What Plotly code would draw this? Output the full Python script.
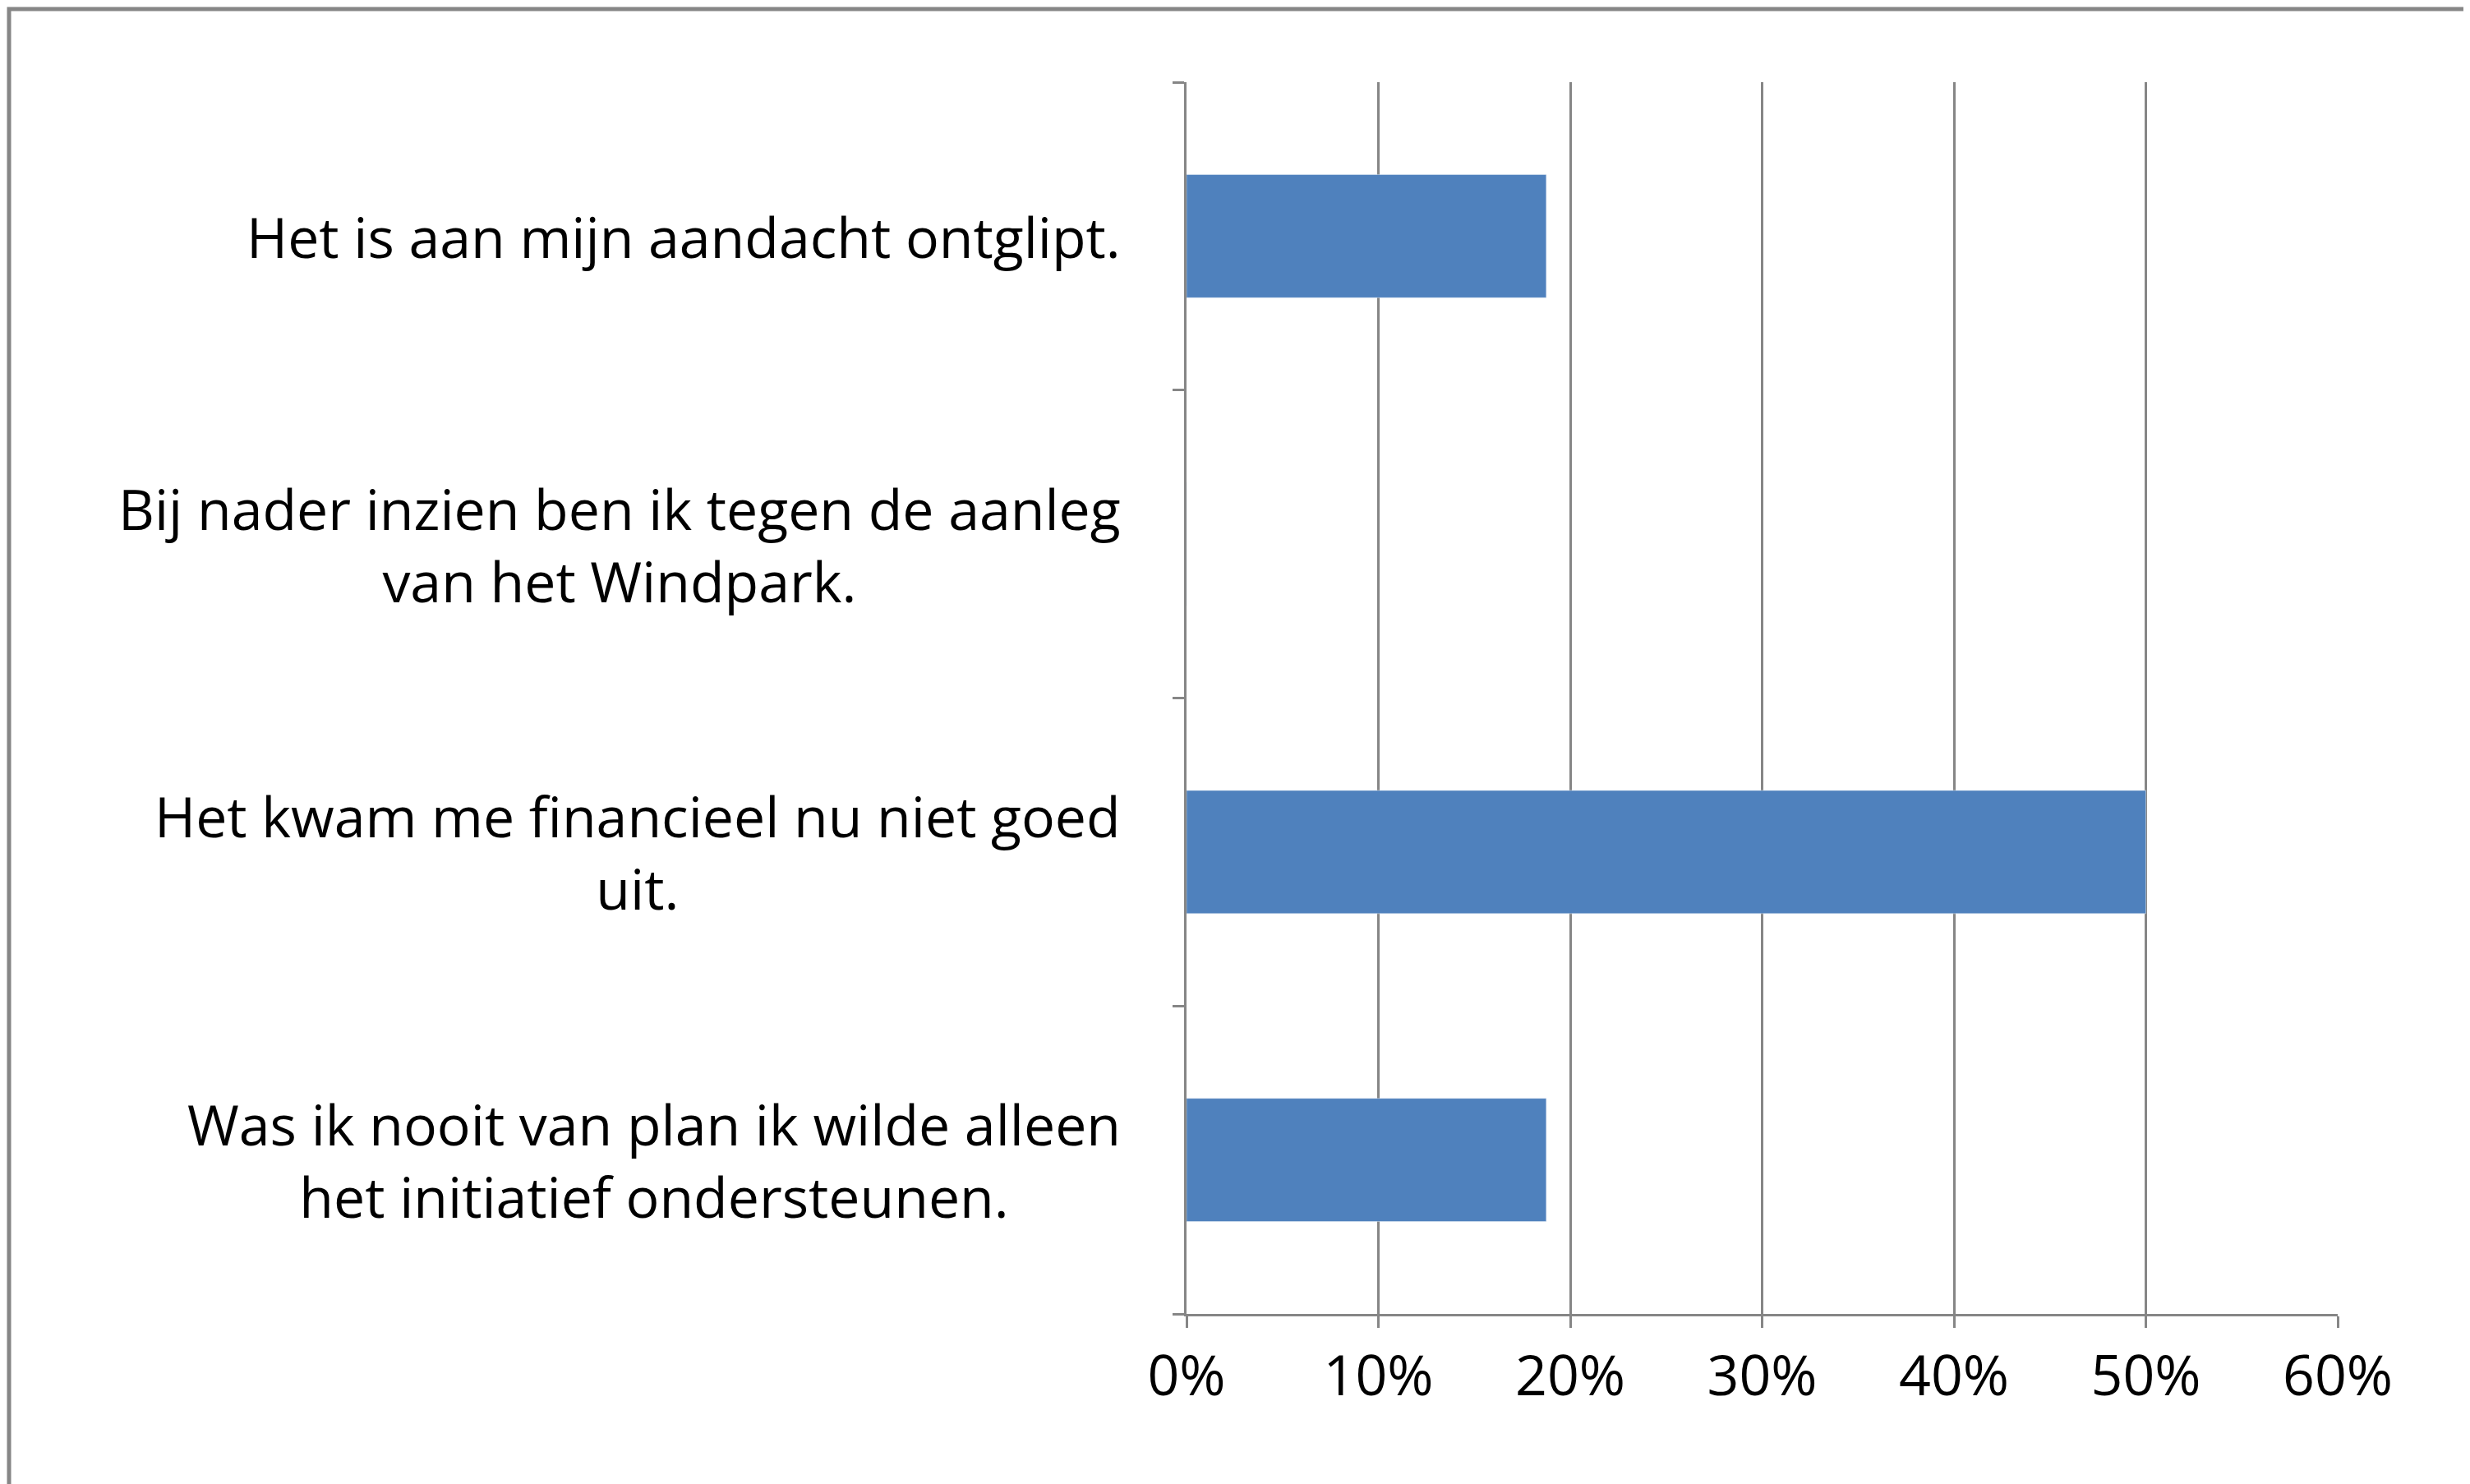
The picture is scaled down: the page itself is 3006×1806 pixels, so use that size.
import plotly.graph_objects as go

categorias = [
    "Het is aan mijn aandacht ontglipt.",
    "Bij nader inzien ben ik tegen de aanleg<br>van het Windpark.",
    "Het kwam me financieel nu niet goed<br>uit.",
    "Was ik nooit van plan ik wilde alleen<br>het initiatief ondersteunen.",
]
valores = [0.1875, 0.0, 0.50, 0.1875]
x_ticks = [0, 0.1, 0.2, 0.3, 0.4, 0.5, 0.6]
x_labels = ["0%", "10%", "20%", "30%", "40%", "50%", "60%"]

W, H = 3006, 1806
ML, MR, MT, MB = 1436, 169, 92, 215
PW, PH = W - ML - MR, H - MT - MB

posiciones = list(range(len(categorias)))

fig = go.Figure()
fig.add_trace(go.Bar(
    x=valores, y=posiciones, orientation="h",
    marker_color="#4F81BD", width=0.4,
))

fig.update_xaxes(
    range=[0, 0.6], tickvals=x_ticks, ticktext=x_labels,
    showgrid=True, gridcolor="#868686", gridwidth=3,
    showline=True, linecolor="#868686", linewidth=3,
    ticks="outside", ticklen=14, tickcolor="#868686", tickwidth=3,
    zeroline=False, tickfont_size=68,
)
fig.update_yaxes(
    range=[3.5, -0.5], tickvals=[-0.5, 0.5, 1.5, 2.5, 3.5],
    showticklabels=False, showgrid=False, zeroline=False,
    showline=True, linecolor="#868686", linewidth=3,
    ticks="outside", ticklen=14, tickcolor="#868686", tickwidth=3,
)

annotations = [
    dict(x=0, xref="paper", y=p, yref="y", xanchor="right", xshift=-78,
         text=c, showarrow=False, align="center", font_size=68)
    for p, c in zip(posiciones, categorias)
]

fig.update_layout(
    width=W, height=H, showlegend=False,
    margin=dict(l=ML, r=MR, t=MT, b=MB),
    font=dict(family="Open Sans", color="black", size=68),
    plot_bgcolor="white", paper_bgcolor="white",
    annotations=annotations,
    shapes=[dict(
        type="rect", xref="paper", yref="paper",
        x0=-(ML - 3) / PW, x1=1 + (MR - 3) / PW,
        y0=-(MB - 3) / PH, y1=1 + (MT - 3) / PH,
        line=dict(color="#868686", width=5),
    )],
)

fig.write_html("out.html")
